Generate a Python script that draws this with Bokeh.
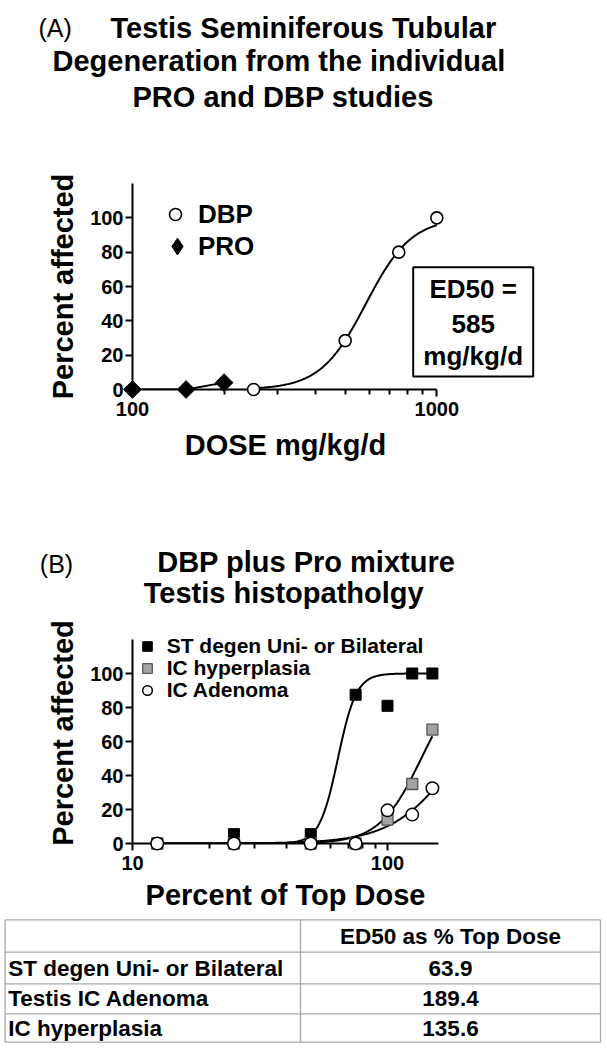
import numpy as np
from bokeh.plotting import figure
from bokeh.layouts import column
from bokeh.models import Range1d, FixedTicker, PrintfTickFormatter, Legend, LegendItem
from bokeh.embed import file_html
from bokeh.resources import INLINE
from bokeh.core.properties import value

FONT = "Liberation Sans"
W = 607

# ---------------- data ----------------
title_a = ["Testis Seminiferous Tubular", "Degeneration from the individual", "PRO and DBP studies"]
title_b = ["DBP plus Pro mixture", "Testis histopatholgy"]

# Panel A
dbp_dose = [250, 500, 750, 1000]
dbp_pct = [0, 28.5, 80, 100]
pro_dose = [100, 150, 200]
pro_pct = [0, 0, 4]
dbp_ed50 = 585
dbp_slope = 5.8
a_xticks = [100, 1000]
a_xminor = [200, 300, 400, 500, 600, 700, 800, 900]
y_ticks = [0, 20, 40, 60, 80, 100]

# Panel B
mix_dose = [12.5, 25, 50, 75, 100, 125, 150]
st_degen = [0, 5.5, 5.5, 87.5, 81, 100, 100]
ic_hyper = [0, 0, 0, 0, 14, 35, 67]
ic_adenoma = [0, 0, 0, 0, 19.5, 17, 32.5]
series_b = ["ST degen Uni- or Bilateral", "IC hyperplasia", "IC Adenoma"]
slopes_b = [12.0, 5.3, 3.4]
b_xticks = [10, 100]
b_xminor = [20, 30, 40, 50, 60, 70, 80, 90]

# Table
table_header = "ED50 as % Top Dose"
table_rows = ["ST degen Uni- or Bilateral", "Testis IC Adenoma", "IC hyperplasia"]
table_ed50 = [63.9, 189.4, 135.6]
ed50_b = [table_ed50[0], table_ed50[2], table_ed50[1]]


def hill(x, ed50, slope, top=100.0):
    x = np.asarray(x, dtype=float)
    return top / (1.0 + (ed50 / x) ** slope)


class PageMap:
    """Convert page pixel positions (titles, boxes, table) into a panel's data space."""

    def __init__(self, lg0, px0, dec, py0, upx):
        self.lg0, self.px0, self.dec, self.py0, self.upx = lg0, px0, dec, py0, upx

    def x(self, px):
        return 10 ** (self.lg0 + (np.asarray(px, dtype=float) - self.px0) / self.dec)

    def y(self, py):
        return (self.py0 - np.asarray(py, dtype=float)) / self.upx


FL, FR = 132, 438  # frame left / right (page px), shared by both panels


def panel_figure(top, bottom, fb, upx, ymax, lg0, dec):
    ft = int(round(fb - ymax * upx))
    xr = Range1d(10 ** lg0, 10 ** (lg0 + (FR - FL) / dec))
    yr = Range1d(0, (fb - ft) / upx)
    p = figure(width=W, height=bottom - top, x_axis_type="log", x_range=xr, y_range=yr,
               toolbar_location=None, output_backend="svg", title=None,
               min_border_left=FL, min_border_right=W - FR,
               min_border_top=ft - top, min_border_bottom=bottom - fb)
    p.outline_line_color = None
    p.grid.visible = False
    p.background_fill_color = "white"
    p.border_fill_color = "white"
    return p, PageMap(lg0, FL, dec, fb, upx)


def style_axes(p, xticks, xminor, xbounds, ylabel, xlabel, xlabel_standoff):
    xa = p.xaxis[0]
    ya = p.yaxis[0]
    xa.bounds = xbounds
    xa.ticker = FixedTicker(ticks=xticks, minor_ticks=xminor)
    xa.formatter = PrintfTickFormatter(format="%d")
    ya.bounds = (0, 120)
    ya.ticker = FixedTicker(ticks=y_ticks, minor_ticks=[])
    for ax in (xa, ya):
        ax.axis_line_width = 2
        ax.axis_line_color = "black"
        ax.major_tick_line_width = 2
        ax.minor_tick_line_width = 2
        ax.major_tick_line_color = "black"
        ax.minor_tick_line_color = "black"
        ax.major_tick_in = 0
        ax.major_tick_out = 7
        ax.minor_tick_in = 0
        ax.minor_tick_out = 5
        ax.major_label_text_font = FONT
        ax.major_label_text_font_size = "20px"
        ax.major_label_text_font_style = "bold"
        ax.major_label_text_color = "black"
        ax.axis_label_text_font = FONT
        ax.axis_label_text_font_size = "29px"
        ax.axis_label_text_font_style = "bold"
        ax.axis_label_text_color = "black"
    ya.major_label_standoff = 2
    xa.major_label_standoff = 5
    ya.axis_label = ylabel
    ya.axis_label_standoff = 8
    xa.axis_label = xlabel
    xa.axis_label_standoff = xlabel_standoff


def put_text(p, m, pxs, pys, texts, size, style="bold", align="left"):
    # pys are the vertical centres of the capital letters (page px)
    p.text(x=m.x(pxs), y=m.y(pys), text=texts, text_font=value(FONT), text_font_size=size,
           text_font_style=style, text_align=align, text_baseline="middle",
           text_color="black", level="overlay")


def make_legend(items, location, size, gw, gh, standoff, spacing=0):
    leg = Legend(items=items, location=location, orientation="vertical")
    leg.label_text_font = FONT
    leg.label_text_font_size = size
    leg.label_text_font_style = "bold"
    leg.label_text_color = "black"
    leg.glyph_width = gw
    leg.glyph_height = gh
    leg.label_height = gh
    leg.label_standoff = standoff
    leg.spacing = spacing
    leg.padding = 0
    leg.margin = 0
    leg.border_line_color = None
    leg.background_fill_alpha = 0
    return leg


# ================= panel A (page y 0..500) =================
pa, ma = panel_figure(0, 500, 389, 206 / 120, 120, 2, 304.3)
style_axes(pa, a_xticks, a_xminor, (100, 1000), "Percent affected", "DOSE mg/kg/d", 10)

put_text(pa, ma, [38], [27], ["(A)"], "25px", style="normal")
put_text(pa, ma, [110, 52, 132], [27, 60.5, 96], title_a, "29px")

xc = np.geomspace(dbp_dose[0], dbp_dose[-1], 200)
pa.line(xc, hill(xc, dbp_ed50, dbp_slope), line_color="black", line_width=2)
pa.line(pro_dose, pro_pct, line_color="black", line_width=2)
# legend key for PRO (legend swatches are never rotated); it sits hidden beneath the PRO symbols
r_pro_key = pa.scatter(pro_dose, pro_pct, marker="diamond", size=9, fill_color="black",
                       line_color="black")
r_dbp = pa.scatter(dbp_dose, dbp_pct, marker="circle", size=12, fill_color="white",
                   line_color="black", line_width=1.6, level="overlay")
r_pro = pa.scatter(pro_dose, pro_pct, marker="square", angle=np.pi / 4, size=12.5,
                   fill_color="black", line_color="black", line_width=1, level="overlay")

pa.add_layout(make_legend([LegendItem(label="DBP", renderers=[r_dbp])],
                          (28, 159), "26px", 30, 32, 8))
pa.add_layout(make_legend([LegendItem(label="PRO", renderers=[r_pro_key])],
                          (24, 122), "26px", 42, 42, 0))

pa.quad(left=ma.x([412.7]), right=ma.x([532.7]), top=ma.y([266.7]), bottom=ma.y([376]),
        fill_color="white", line_color="black", line_width=2, level="overlay")
put_text(pa, ma, [472.7] * 3, [288.3, 323.3, 355.8],
         ["ED50 =", f"{dbp_ed50}", "mg/kg/d"], "26px", align="center")

# ================= panel B (page y 500..1050) =================
pb, mb = panel_figure(500, 1050, 843, 1.7, 130, 1, 255.0)
style_axes(pb, b_xticks, b_xminor, (10, 160), "Percent affected", "Percent of Top Dose", 6)

put_text(pb, mb, [39.3], [563], ["(B)"], "25px", style="normal")
put_text(pb, mb, [156.7, 143.3], [561, 592.5], title_b, "29px")

xb = np.geomspace(mix_dose[0], mix_dose[-1], 300)
for ed, sl in zip(ed50_b, slopes_b):
    pb.line(xb, hill(xb, ed, sl), line_color="black", line_width=2)

r_st = pb.scatter(mix_dose, st_degen, marker="square", size=11, fill_color="black",
                  line_color="black", level="overlay")
r_hy = pb.scatter(mix_dose, ic_hyper, marker="square", size=11, fill_color="#a3a3a3",
                  line_color="#555555", line_width=1.3, level="overlay")
r_ad = pb.scatter(mix_dose, ic_adenoma, marker="circle", size=12.5, fill_color="white",
                  line_color="black", line_width=1.5, level="overlay")

# one legend row per series so the rows keep the reference's tight 22 px pitch
for name, rend, vy in zip(series_b, [r_st, r_hy, r_ad], [185, 163, 141]):
    pb.add_layout(make_legend([LegendItem(label=name, renderers=[rend])],
                              (2.7, vy), "21px", 24, 24, 8))

# table (drawn in panel B's lower border, page coordinates mapped into data space)
grid_color = "#a8a8a8"
h_lines = [919.3, 951.7, 983.3, 1013.3, 1041.7]
v_lines = [4.6, 300, 600]
pb.segment(x0=mb.x([v_lines[0]] * len(h_lines)), x1=mb.x([v_lines[-1]] * len(h_lines)),
           y0=mb.y(h_lines), y1=mb.y(h_lines), line_color=grid_color, line_width=1.3,
           level="overlay")
pb.segment(x0=mb.x(v_lines), x1=mb.x(v_lines), y0=mb.y([h_lines[0]] * len(v_lines)),
           y1=mb.y([h_lines[-1]] * len(v_lines)), line_color=grid_color, line_width=1.3,
           level="overlay")
row_mid = [(h_lines[i] + h_lines[i + 1]) / 2 for i in range(len(h_lines) - 1)]
col_mid = (v_lines[1] + v_lines[2]) / 2
put_text(pb, mb, [col_mid], [row_mid[0]], [table_header], "22.5px", align="center")
put_text(pb, mb, [7.7] * len(table_rows), row_mid[1:], table_rows, "22.5px")
put_text(pb, mb, [col_mid] * len(table_ed50), row_mid[1:], [f"{v:.1f}" for v in table_ed50],
         "22.5px", align="center")

layout = column(pa, pb, spacing=0)
open("out.html", "w").write(file_html(layout, INLINE))
